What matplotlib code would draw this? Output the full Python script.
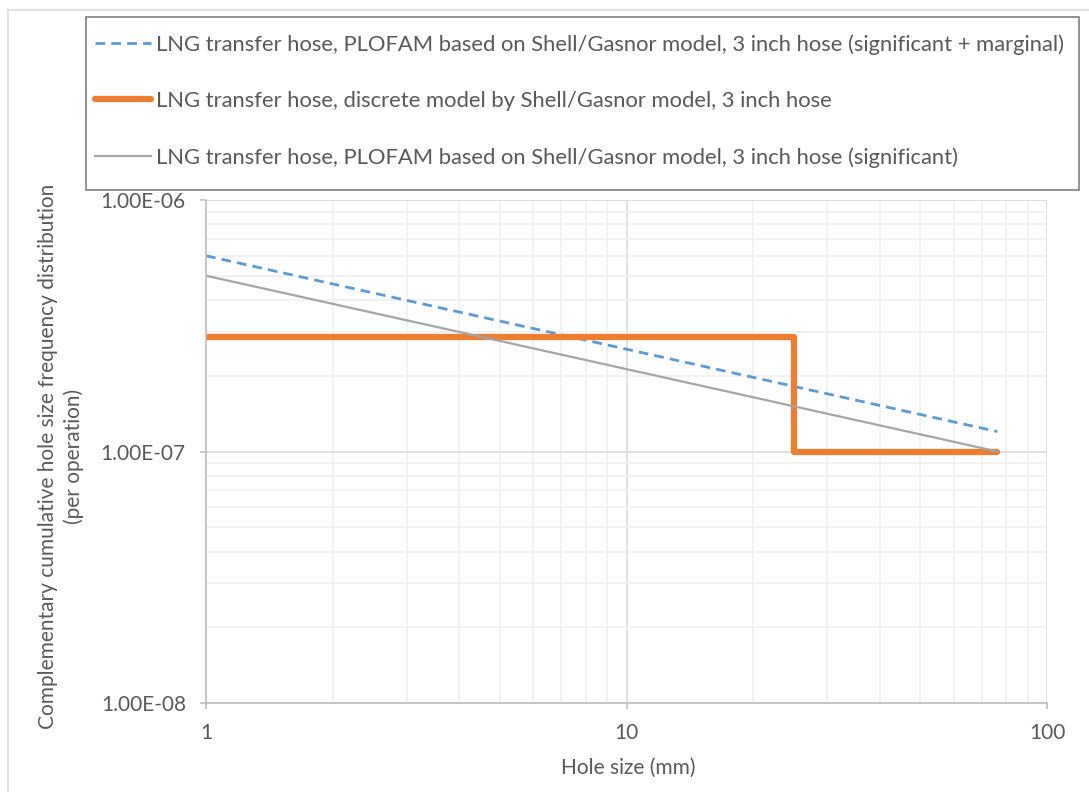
import matplotlib.pyplot as plt
from matplotlib.lines import Line2D
from matplotlib.patches import Rectangle

plt.rcParams['font.family'] = ['Lato', 'DejaVu Sans']

# data
hole_marg = [1, 76.2]
freq_marg = [6.0e-7, 1.2e-7]

hole_disc = [1, 25, 76.2]
freq_disc = [2.85e-7, 1.0e-7, 1.0e-7]

hole_sig = [1, 76.2]
freq_sig = [5.0e-7, 1.0e-7]

labels = [
    "LNG transfer hose, PLOFAM based on Shell/Gasnor model, 3 inch hose (significant + marginal)",
    "LNG transfer hose, discrete model by Shell/Gasnor model, 3 inch hose",
    "LNG transfer hose, PLOFAM based on Shell/Gasnor model, 3 inch hose (significant)",
]
y_ticks = [1e-8, 1e-7, 1e-6]
y_ticklabels = ["1.00E-08", "1.00E-07", "1.00E-06"]
x_ticks = [1, 10, 100]
x_ticklabels = ["1", "10", "100"]

txt = '#595959'
W, H = 1089, 792
fig = plt.figure(figsize=(W / 100, H / 100), dpi=100)

# outer chart border
fig.add_artist(Line2D([8 / W, 8 / W], [0, 1 - 10 / H], color='#d9d9d9', lw=1.2))
fig.add_artist(Line2D([8 / W, 1], [1 - 10 / H, 1 - 10 / H], color='#d9d9d9', lw=1.2))

ax = fig.add_axes([206 / W, 1 - 703 / H, (1047 - 206) / W, (703 - 200) / H])
ax.set_xscale('log')
ax.set_yscale('log')
ax.set_xlim(1, 100)
ax.set_ylim(1e-8, 1e-6)

ax.grid(True, which='minor', color='#f0f0f0', lw=1.2)
ax.grid(True, which='major', color='#d9d9d9', lw=1.2)
ax.set_axisbelow(True)

l1, = ax.plot(hole_marg, freq_marg, color='#5B9BD5', lw=2.0, dashes=(3.5, 2.2))
l2, = ax.plot(hole_disc, freq_disc, color='#ED7D31', lw=4.5, drawstyle='steps-post',
              solid_capstyle='round', solid_joinstyle='round')
l3, = ax.plot(hole_sig, freq_sig, color='#A5A5A5', lw=1.6)

for s in ['top', 'right']:
    ax.spines[s].set_visible(False)
for s in ['left', 'bottom']:
    ax.spines[s].set_color('#bfbfbf')
    ax.spines[s].set_linewidth(1.2)

ax.set_yticks(y_ticks)
ax.set_yticklabels(y_ticklabels)
ax.set_xticks(x_ticks)
ax.set_xticklabels(x_ticklabels)
ax.tick_params(which='major', length=4.5, width=1.2, color='#bfbfbf', labelsize=15,
               labelcolor=txt, pad=10)
ax.tick_params(which='minor', length=0)

fig.text(628 / W, 1 - 768 / H, "Hole size (mm)", ha='center', va='center', fontsize=15, color=txt)
fig.text(61 / W, 1 - 456 / H,
         "Complementary cumulative hole size frequency distribution\n(per operation)",
         rotation=90, ha='center', va='center', multialignment='center',
         fontsize=15, color=txt, linespacing=1.3)

# legend box drawn separately so it sits where the reference has it
fig.add_artist(Rectangle((86 / W, 1 - 190 / H), (1079 - 86) / W, (190 - 17) / H,
                         transform=fig.transFigure, fill=False, ec='#7f7f7f', lw=1.2))
leg = fig.legend([l1, l2, l3], labels, loc='upper left',
                 bbox_to_anchor=(95 / W, 1 - 34 / H), frameon=False, fontsize=15.8,
                 labelcolor=txt, handlelength=2.55, handletextpad=0.22,
                 labelspacing=1.65, borderaxespad=0, borderpad=0)

fig.savefig('out.png', dpi=100, facecolor='white')
